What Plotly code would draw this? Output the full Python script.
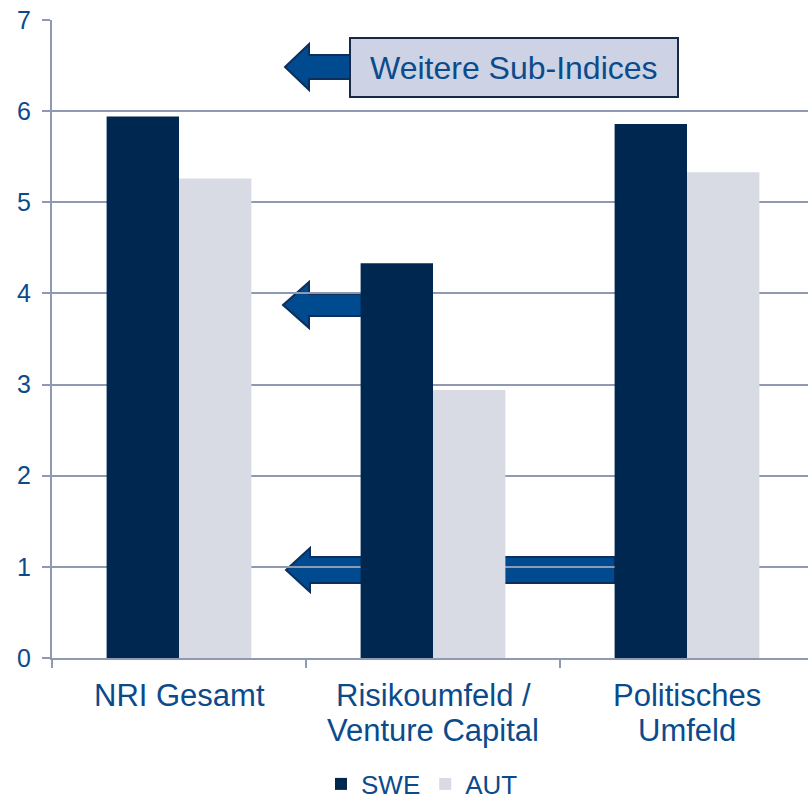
import plotly.graph_objects as go

categories = ["NRI Gesamt", "Risikoumfeld / Venture Capital", "Politisches Umfeld"]
category_lines = [["NRI Gesamt"], ["Risikoumfeld /", "Venture Capital"], ["Politisches", "Umfeld"]]
swe_values = [5.94, 4.33, 5.86]
aut_values = [5.26, 2.94, 5.33]
y_ticks = [0, 1, 2, 3, 4, 5, 6, 7]
box_text = "Weitere Sub-Indices"

W, H = 808, 799
ML, MR, MT, MB = 52, 0, 20, 141
PW, PH = W - ML - MR, H - MT - MB

TEXT = "#0b4b8c"
AXIS = "#8f99b1"
SWE_C = "#00274f"
AUT_C = "#d8dbe4"
FONT = "Arial, Liberation Sans, sans-serif"

def px(x):
    return (x - ML) / PW

def py(y):
    return (H - MB - y) / PH

def arrow_path(tip, yc, head_back, hh, sh, tail):
    pts = [(tip, yc), (head_back, yc - hh), (head_back, yc - sh), (tail, yc - sh),
           (tail, yc + sh), (head_back, yc + sh), (head_back, yc + hh)]
    return "M " + " L ".join(f"{px(a):.5f},{py(b):.5f}" for a, b in pts) + " Z"

fig = go.Figure()
fig.add_trace(go.Bar(name="SWE", x=categories, y=swe_values, marker=dict(color=SWE_C, line=dict(width=0))))
fig.add_trace(go.Bar(name="AUT", x=categories, y=aut_values, marker=dict(color=AUT_C, line=dict(width=0))))

shapes = []
for args in [(285, 67, 309, 23, 12, 352), (283, 305, 309, 23, 11, 362), (286, 570, 310, 22, 13, 615)]:
    shapes.append(dict(type="path", xref="paper", yref="paper", path=arrow_path(*args),
                       fillcolor="#004a8f", line=dict(color="#0c2f5e", width=2), layer="below"))
shapes.append(dict(type="rect", xref="paper", yref="paper", x0=px(350), x1=px(678), y0=py(97), y1=py(38),
                   fillcolor="#cdd3e4", line=dict(color="#17294a", width=2), layer="above"))

annotations = [dict(text=box_text, xref="paper", yref="paper", x=px(514), y=py(68),
                    showarrow=False, font=dict(size=32, color=TEXT, family=FONT),
                    xanchor="center", yanchor="middle")]
for cat, lines in zip(categories, category_lines):
    for i, line in enumerate(lines):
        annotations.append(dict(text=line, xref="x", yref="paper", x=cat, y=py(695 + 35 * i),
                                showarrow=False, font=dict(size=31, color=TEXT, family=FONT),
                                xanchor="center", yanchor="middle"))

fig.update_layout(
    width=W, height=H,
    margin=dict(l=ML, r=MR, t=MT, b=MB, autoexpand=False),
    paper_bgcolor="white", plot_bgcolor="white",
    barmode="group", bargap=0.43, bargroupgap=0,
    font=dict(family=FONT, color=TEXT),
    shapes=shapes,
    annotations=annotations,
    legend=dict(orientation="h", x=px(422), xanchor="center", yref="container", y=(H - 784) / H,
                yanchor="middle", font=dict(size=26, color=TEXT), traceorder="normal"),
    xaxis=dict(range=[-0.5, -0.5 + PW / 254], showline=True, linecolor=AXIS, linewidth=2,
               ticks="outside", tickson="boundaries", ticklen=8, tickcolor=AXIS, tickwidth=1.5,
               showticklabels=False, showgrid=False, automargin=False),
    yaxis=dict(range=[0, 7], tickvals=y_ticks, showline=True, linecolor=AXIS, linewidth=2,
               ticks="outside", ticklen=8, tickcolor=AXIS, tickwidth=1.5,
               showgrid=True, gridcolor=AXIS, gridwidth=1.5, ticklabelstandoff=6,
               tickfont=dict(size=25, color=TEXT), zeroline=False, automargin=False),
)

fig.write_html("out.html", config={"displayModeBar": False},
               post_script="document.body.style.margin='0';document.body.style.overflow='hidden';")
